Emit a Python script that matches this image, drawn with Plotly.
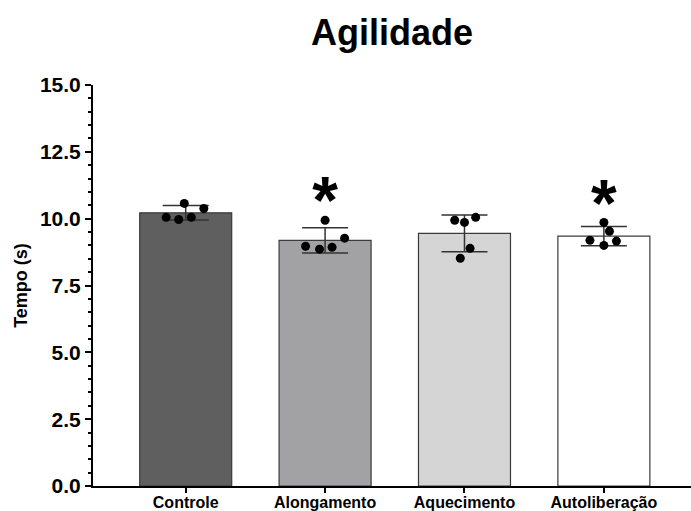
import plotly.graph_objects as go

categories = ["Controle", "Alongamento", "Aquecimento", "Autoliberação"]
means = [10.22, 9.19, 9.45, 9.35]
sds = [0.27, 0.47, 0.69, 0.36]
points = [
    [10.57, 10.38, 10.05, 9.97, 10.05],
    [9.94, 9.27, 8.97, 8.86, 8.93],
    [9.94, 9.86, 10.05, 8.89, 8.52],
    [9.86, 9.53, 9.19, 9.00, 9.16],
]
significant = [False, True, False, True]
yticks = [0.0, 2.5, 5.0, 7.5, 10.0, 12.5, 15.0]

# style-only constants
bar_colors = ["#5f5f5f", "#a2a2a4", "#d5d5d5", "#ffffff"]
jitter = [
    [-0.01, 0.13, -0.14, -0.05, 0.04],
    [0.0, 0.14, -0.14, -0.04, 0.05],
    [-0.07, 0.0, 0.08, 0.04, -0.03],
    [0.0, 0.04, -0.1, 0.0, 0.09],
]
FONT = "Liberation Sans, Arial, sans-serif"

xs = list(range(len(categories)))
fig = go.Figure()
fig.add_trace(go.Bar(
    x=xs, y=means, width=0.66,
    marker=dict(color=bar_colors, line=dict(color="#3a3a3a", width=1.2)),
    error_y=dict(type="data", array=sds, visible=True, color="#333333",
                 thickness=1.5, width=23),
    showlegend=False,
))
for i, pts in enumerate(points):
    fig.add_trace(go.Scatter(
        x=[i + j for j in jitter[i]], y=pts, mode="markers",
        marker=dict(color="black", size=9), showlegend=False,
    ))
sig_x = [i for i, s in enumerate(significant) if s]
sig_y = [max(points[i]) + 0.5 for i in sig_x]
fig.add_trace(go.Scatter(
    x=sig_x, y=sig_y, mode="text", text=["<b>*</b>"] * len(sig_x),
    textposition="middle center",
    textfont=dict(family=FONT, size=66, color="black"),
    showlegend=False,
))

fig.update_layout(
    width=691, height=511,
    margin=dict(l=93, r=0, t=85, b=25),
    plot_bgcolor="white", paper_bgcolor="white",
    title=dict(text="<b>Agilidade</b>", x=0.5, xref="paper", xanchor="center",
               y=1 - 32 / 511, yref="container", yanchor="middle",
               font=dict(family=FONT, size=36, color="black")),
    font=dict(family=FONT, color="black"),
)
fig.update_xaxes(
    range=[-0.665, 3.625], tickvals=xs,
    ticktext=["<b>%s</b>" % c for c in categories],
    tickfont=dict(family=FONT, size=16, color="black"),
    showline=True, linecolor="black", linewidth=2,
    ticks="outside", ticklen=5, tickwidth=2, tickcolor="black",
    ticklabelstandoff=-4,
    showgrid=False, zeroline=False, automargin=False,
)
fig.update_yaxes(
    range=[0, 15], tickvals=yticks,
    ticktext=["<b>%.1f</b>" % v for v in yticks],
    tickfont=dict(family=FONT, size=21, color="black"),
    showline=True, linecolor="black", linewidth=2,
    ticks="outside", ticklen=6, tickwidth=2, tickcolor="black",
    minor=dict(dtick=0.5, ticks="outside", ticklen=3, tickwidth=1.5, tickcolor="black", showgrid=False),
    showgrid=False, zeroline=False, automargin=False,
    title=dict(text="<b>Tempo (s)</b>", font=dict(family=FONT, size=18, color="black"), standoff=8),
)
fig.write_html("out.html", config={"displayModeBar": False},
               post_script="document.body.style.margin='0';")
